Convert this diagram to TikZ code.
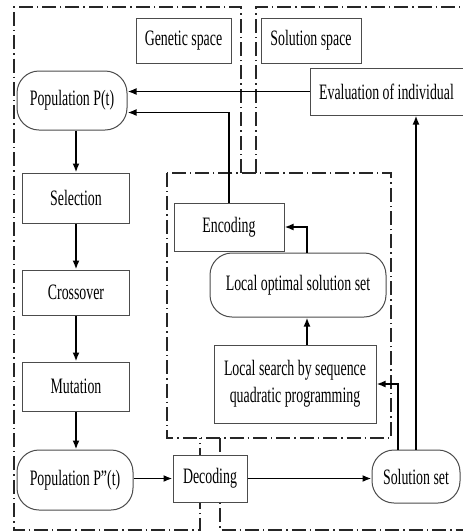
\documentclass[tikz,border=0pt]{standalone}
\usepackage{fontspec}
\setmainfont{Liberation Serif}[FakeStretch=0.63]
\usetikzlibrary{arrows.meta}

\begin{document}
\begin{tikzpicture}[x=0.5pt, y=-0.5pt,
    box/.style={draw=black!70, line width=0.5pt, fill=white, inner sep=0pt, align=center,
        font=\fontsize{11}{13.5}\selectfont},
    roundbox/.style={box, rounded corners=11pt},
    frame/.style={line width=0.6pt, draw=black!85, dash pattern=on 7pt off 2pt on 0.7pt off 2pt},
    arr/.style={-{Latex[length=4.5pt,width=3.5pt]}, line width=0.9pt}]

    \useasboundingbox (0,0) rectangle (462,531);

    % dash-dot frames
    \draw [frame] (241,173) -- (241,7) -- (14,7) -- (14,530) -- (200,530) -- (200,438);
    \draw [frame] (256,173) -- (256,7) -- (470,7);
    \draw [frame] (220,438) -- (220,530) -- (470,530);
    \draw [frame] (167,173) rectangle (391,438);

    % genetic side
    \node [box, minimum width=47.5pt, minimum height=22.5pt] (genetic) at (183.5,40.5) {Genetic space};
    \node [roundbox, minimum width=55pt, minimum height=29.5pt] (popt) at (72,100.5) {Population P(t)};
    \node [box, minimum width=53.5pt, minimum height=25pt] (selection) at (76,198) {Selection};
    \node [box, minimum width=53.5pt, minimum height=22.5pt] (crossover) at (76,292.5) {Crossover};
    \node [box, minimum width=53.5pt, minimum height=24.5pt] (mutation) at (76,386.5) {Mutation};
    \node [roundbox, minimum width=58pt, minimum height=30pt] (poppp) at (75,480) {Population P”(t)};
    \node [box, minimum width=37pt, minimum height=23.5pt] (decoding) at (210,478.5) {Decoding};

    % solution side
    \node [box, minimum width=50pt, minimum height=22.5pt] (solspace) at (311,40.5) {Solution space};
    \node [box, minimum width=76.5pt, minimum height=23.5pt] (evaluation) at (386.5,91.5) {Evaluation of individual};
    \node [roundbox, minimum width=44pt, minimum height=26.5pt] (solset) at (416,476.5) {Solution set};

    % local search part
    \node [box, minimum width=55pt, minimum height=24pt] (encoding) at (229,227) {Encoding};
    \node [roundbox, minimum width=88pt, minimum height=32pt] (localopt) at (298,285) {Local optimal solution set};
    \node [box, minimum width=81pt, minimum height=39pt] (localsearch) at (295,384)
        {Local search by sequence\\quadratic programming};

    % connectors
    \draw [arr] (popt.south -| selection.north) -- (selection.north);
    \draw [arr] (selection) -- (crossover);
    \draw [arr] (crossover) -- (mutation);
    \draw [arr] (mutation.south) -- (mutation.south |- poppp.north);
    \draw [arr] (poppp.east |- decoding.west) -- (decoding.west);
    \draw [arr] (decoding.east) -- (decoding.east -| solset.west);
    \draw [arr] (solset.north) -- (solset.north |- evaluation.south);
    \draw [arr] ([xshift=-9pt]solset.north) |- (localsearch.east);
    \draw [arr] ([xshift=6pt]localsearch.north) -- ([xshift=6pt]localsearch.north |- localopt.south);
    \draw [arr] ([xshift=4.5pt]localopt.north) |- (encoding.east);
    \draw [arr] (encoding.north) |- ([yshift=-6pt]popt.east);
    \draw [arr] (evaluation.west) -- (evaluation.west -| popt.east);

\end{tikzpicture}
\end{document}
